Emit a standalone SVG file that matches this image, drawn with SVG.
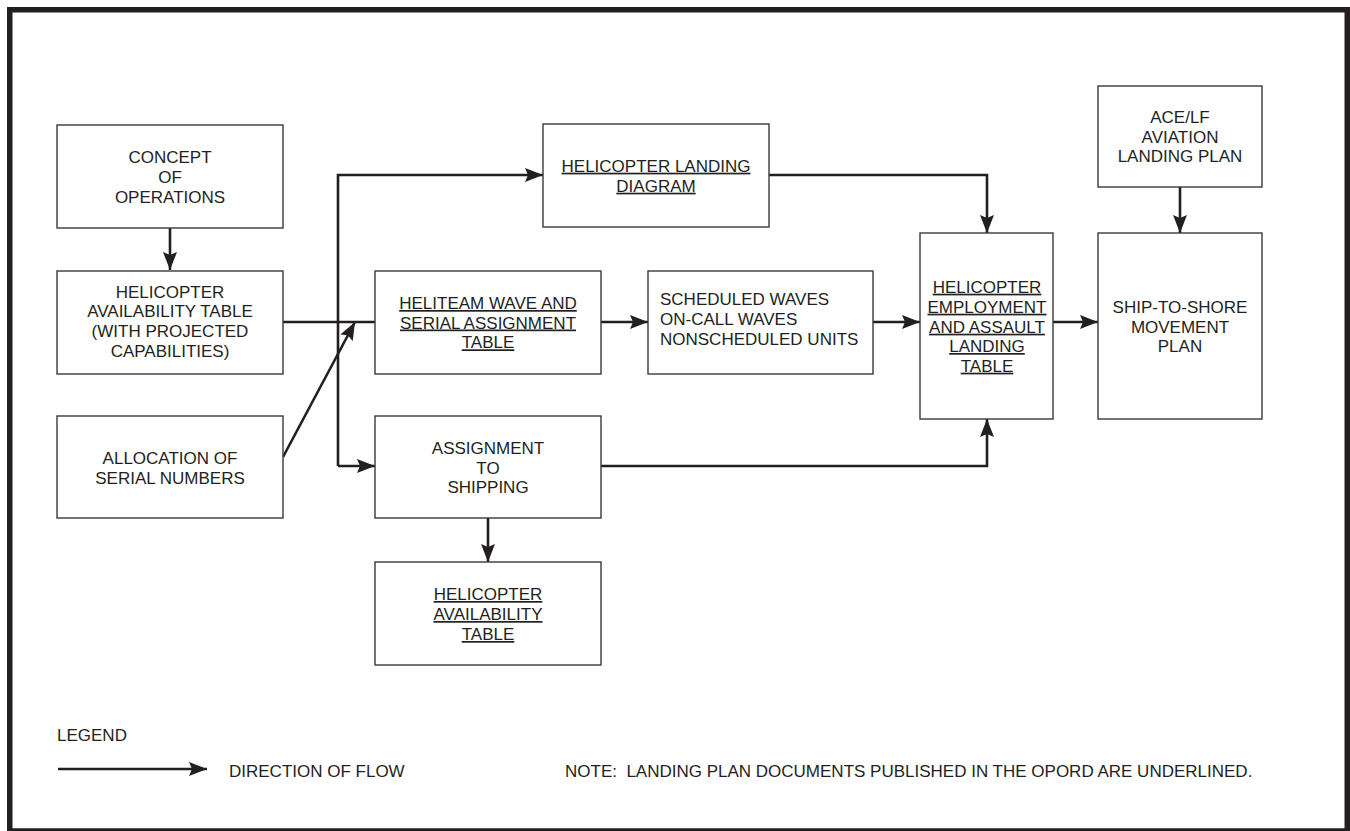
<svg xmlns="http://www.w3.org/2000/svg" width="1350" height="831" viewBox="0 0 1350 831">
  <defs>
    <marker id="arrow" viewBox="0 0 18 14" refX="18" refY="7" markerWidth="18" markerHeight="14" markerUnits="userSpaceOnUse" orient="auto">
      <path d="M0,0 L18,7 L0,14 L3,7 Z" fill="#231f20"/>
    </marker>
    <style>
      .box { fill: #ffffff; stroke: #3a3a3a; stroke-width: 1.4; }
      .t { font-family: "Liberation Sans", Arial, sans-serif; font-size: 17px; fill: #231f20; text-anchor: middle; }
      .l { text-anchor: start; }
      .u { text-decoration: underline; }
      .c { fill: none; stroke: #231f20; stroke-width: 2.6; }
    </style>
  </defs>

  <rect x="0" y="0" width="1350" height="831" fill="#ffffff"/>
  <!-- outer frame -->
  <rect x="9.75" y="9.75" width="1337.5" height="821.25" fill="none" stroke="#231f20" stroke-width="5.5"/>

  <!-- connectors -->
  <g id="connectors">
    <path class="c" d="M170,228 V270" marker-end="url(#arrow)"/>
    <path class="c" d="M283,322 H375"/>
    <path class="c" d="M338,466 V175 H543" marker-end="url(#arrow)"/>
    <path class="c" d="M338,466 H375" marker-end="url(#arrow)"/>
    <path class="c" d="M283,457 L355,322" marker-end="url(#arrow)"/>
    <path class="c" d="M601,322 H648" marker-end="url(#arrow)"/>
    <path class="c" d="M873,322 H920" marker-end="url(#arrow)"/>
    <path class="c" d="M1053,322 H1098" marker-end="url(#arrow)"/>
    <path class="c" d="M769,175 H987 V233" marker-end="url(#arrow)"/>
    <path class="c" d="M1180,187 V233" marker-end="url(#arrow)"/>
    <path class="c" d="M601,466 H987 V419" marker-end="url(#arrow)"/>
    <path class="c" d="M488,518 V562" marker-end="url(#arrow)"/>
  </g>

  <g id="concept">
    <rect class="box" x="57" y="125" width="226" height="103"/>
    <text class="t" x="170" y="163">CONCEPT</text>
    <text class="t" x="170" y="183">OF</text>
    <text class="t" x="170" y="202.5">OPERATIONS</text>
  </g>

  <g id="availability-projected">
    <rect class="box" x="57" y="271" width="226" height="103"/>
    <text class="t" x="170" y="297.5">HELICOPTER</text>
    <text class="t" x="170" y="317.3">AVAILABILITY TABLE</text>
    <text class="t" x="170" y="337">(WITH PROJECTED</text>
    <text class="t" x="170" y="356.7">CAPABILITIES)</text>
  </g>

  <g id="serial-allocation">
    <rect class="box" x="57" y="416" width="226" height="102"/>
    <text class="t" x="170" y="464">ALLOCATION OF</text>
    <text class="t" x="170" y="483.5">SERIAL NUMBERS</text>
  </g>

  <g id="landing-diagram">
    <rect class="box" x="543" y="124" width="226" height="103"/>
    <text class="t u" x="656" y="171.7">HELICOPTER LANDING</text>
    <text class="t u" x="656" y="191.7">DIAGRAM</text>
  </g>

  <g id="heliteam-table">
    <rect class="box" x="375" y="271" width="226" height="103"/>
    <text class="t u" x="488" y="309">HELITEAM WAVE AND</text>
    <text class="t u" x="488" y="328.5">SERIAL ASSIGNMENT</text>
    <text class="t u" x="488" y="348.3">TABLE</text>
  </g>

  <g id="waves">
    <rect class="box" x="648" y="271" width="225" height="103"/>
    <text class="t l" x="660" y="305">SCHEDULED WAVES</text>
    <text class="t l" x="660" y="325">ON-CALL WAVES</text>
    <text class="t l" x="660" y="345">NONSCHEDULED UNITS</text>
  </g>

  <g id="employment-table">
    <rect class="box" x="920" y="233" width="133" height="186"/>
    <text class="t u" x="987" y="292.7">HELICOPTER</text>
    <text class="t u" x="987" y="312.7">EMPLOYMENT</text>
    <text class="t u" x="987" y="332.7">AND ASSAULT</text>
    <text class="t u" x="987" y="352">LANDING</text>
    <text class="t u" x="987" y="371.7">TABLE</text>
  </g>

  <g id="aviation-plan">
    <rect class="box" x="1098" y="86" width="164" height="101"/>
    <text class="t" x="1180" y="123.3">ACE/LF</text>
    <text class="t" x="1180" y="142.7">AVIATION</text>
    <text class="t" x="1180" y="161.7">LANDING PLAN</text>
  </g>

  <g id="movement-plan">
    <rect class="box" x="1098" y="233" width="164" height="186"/>
    <text class="t" x="1180" y="312.7">SHIP-TO-SHORE</text>
    <text class="t" x="1180" y="332.7">MOVEMENT</text>
    <text class="t" x="1180" y="352">PLAN</text>
  </g>

  <g id="shipping">
    <rect class="box" x="375" y="416" width="226" height="102"/>
    <text class="t" x="488" y="454">ASSIGNMENT</text>
    <text class="t" x="488" y="473.5">TO</text>
    <text class="t" x="488" y="492.7">SHIPPING</text>
  </g>

  <g id="availability-table">
    <rect class="box" x="375" y="562" width="226" height="103"/>
    <text class="t u" x="488" y="600">HELICOPTER</text>
    <text class="t u" x="488" y="620">AVAILABILITY</text>
    <text class="t u" x="488" y="640">TABLE</text>
  </g>

  <g id="legend">
    <text class="t l" x="57" y="741">LEGEND</text>
    <path class="c" d="M58,769 H207" marker-end="url(#arrow)"/>
    <text class="t l" x="229" y="776.5">DIRECTION OF FLOW</text>
    <text class="t l" x="565" y="776.5">NOTE:&#160; LANDING PLAN DOCUMENTS PUBLISHED IN THE OPORD ARE UNDERLINED.</text>
  </g>
</svg>
